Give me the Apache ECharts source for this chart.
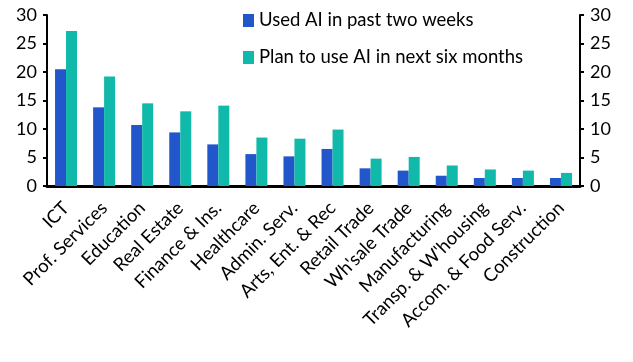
<!DOCTYPE html>
<html><head><meta charset="utf-8">
<script src="https://cdn.jsdelivr.net/npm/echarts@6/dist/echarts.min.js"></script>
<style>html,body{margin:0;padding:0;background:#fff}#c{width:633px;height:362px}</style>
</head><body><div id="c"></div>
<script>
const categories = ["ICT","Prof. Services","Education","Real Estate","Finance & Ins.","Healthcare","Admin. Serv.","Arts, Ent. & Rec","Retail Trade","Wh'sale Trade","Manufacturing","Transp. & W'housing","Accom. & Food Serv.","Construction"];
const usedAI = [20.5,13.8,10.7,9.4,7.3,5.6,5.2,6.5,3.1,2.7,1.8,1.4,1.4,1.4];
const planAI = [27.2,19.2,14.5,13.1,14.1,8.5,8.3,9.9,4.8,5.1,3.6,2.9,2.7,2.3];
const yTicks = [0,5,10,15,20,25,30];
const FONT = 'Lato';
const chart = echarts.init(document.getElementById('c'));
const yAxisBase = {
  type:'value', min:yTicks[0], max:yTicks[yTicks.length-1], interval:5,
  splitLine:{show:false},
  axisLine:{show:true,lineStyle:{color:'#000',width:2}},
  axisTick:{show:true,length:4,lineStyle:{color:'#000',width:2}},
  axisLabel:{color:'#000',fontSize:18,fontFamily:FONT}
};
chart.setOption({
  animation:false,
  textStyle:{fontFamily:FONT},
  grid:{left:47,right:53,top:15,bottom:176,containLabel:false},
  legend:{orient:'vertical',left:238,top:6,itemGap:18,itemWidth:11,itemHeight:13,
    icon:'rect',textStyle:{fontSize:18.5,color:'#000',fontFamily:FONT},
    data:['Used AI in past two weeks','Plan to use AI in next six months']},
  xAxis:{type:'category',data:categories,
    axisLine:{lineStyle:{color:'#000',width:3}},
    axisTick:{show:false},
    axisLabel:{rotate:45,interval:0,color:'#000',fontSize:18.5,fontFamily:FONT,margin:19}},
  yAxis:[Object.assign({},yAxisBase,{position:'left',axisLabel:Object.assign({},yAxisBase.axisLabel,{margin:10})}),
         Object.assign({},yAxisBase,{position:'right',axisLabel:Object.assign({},yAxisBase.axisLabel,{margin:10})})],
  series:[
    {name:'Used AI in past two weeks',type:'bar',data:usedAI,barWidth:11,barGap:'0%',itemStyle:{color:'#2257CC'}},
    {name:'Plan to use AI in next six months',type:'bar',data:planAI,barWidth:11,itemStyle:{color:'#10B9A9'}}
  ]
});
</script></body></html>
